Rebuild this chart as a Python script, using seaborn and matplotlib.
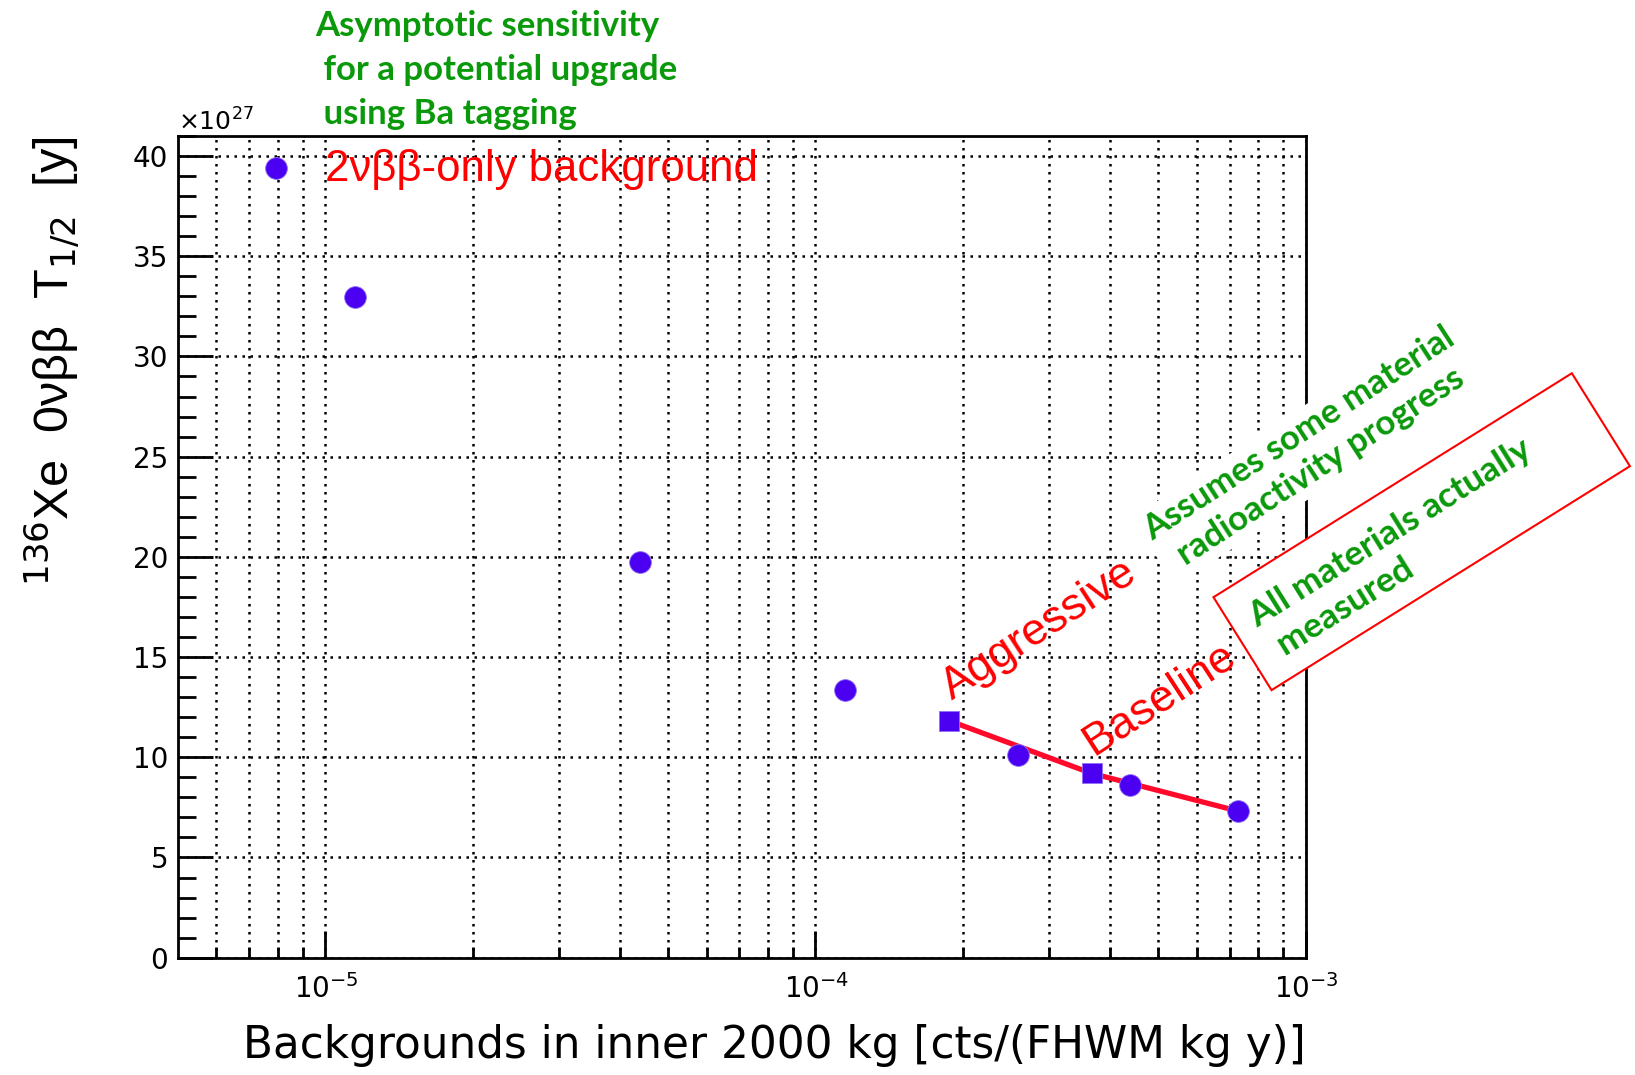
import matplotlib
matplotlib.use("Agg")
import matplotlib.pyplot as plt
import matplotlib.patches as mpatches
import matplotlib.transforms as mtransforms
from matplotlib.ticker import FixedLocator, FixedFormatter, LogLocator, MultipleLocator, NullFormatter
import numpy as np
import seaborn as sns

# Sensitivity scan: background index vs 0vbb half-life sensitivity (units of 1e27 y)
bkg_scan = [7.93e-6, 1.15e-5, 4.38e-5, 1.15e-4, 2.59e-4, 4.38e-4, 7.27e-4]
t_half_scan = [39.38, 32.97, 19.75, 13.36, 10.11, 8.62, 7.32]

# Design scenarios (Aggressive, Baseline)
bkg_design = [1.873e-4, 3.66e-4]
t_half_design = [11.83, 9.20]

# Sensitivity curve through the design scenarios
bkg_curve = [1.873e-4, 3.66e-4, 7.27e-4]
t_half_curve = [11.83, 9.20, 7.32]

x_major = [1e-5, 1e-4, 1e-3]
x_labels = [r"$10^{-5}$", r"$10^{-4}$", r"$10^{-3}$"]
y_major = [0, 5, 10, 15, 20, 25, 30, 35, 40]

MARKER = "#4b00f2"
RED = "#ff0000"
LINE_RED = "#ff0a2a"
GREEN = "#0a990a"

sns.set_theme(style="white")
plt.rcParams["font.family"] = ["Liberation Sans", "DejaVu Sans"]
plt.rcParams["mathtext.fontset"] = "custom"
plt.rcParams["mathtext.rm"] = "DejaVu Sans"
plt.rcParams["mathtext.it"] = "DejaVu Sans:italic"
plt.rcParams["mathtext.bf"] = "DejaVu Sans:bold"
plt.rcParams["text.color"] = "black"

W, H = 1635, 1075
fig = plt.figure(figsize=(W / 100, H / 100), dpi=100)
fig.patch.set_facecolor("white")


def fx(x):
    return x / W


def fy(y):
    return 1 - y / H


ax_left, ax_right, ax_top, ax_bottom = 178, 1305.5, 136, 957.7
ax = fig.add_axes([fx(ax_left), fy(ax_bottom), (ax_right - ax_left) / W, (ax_bottom - ax_top) / H])
ax.set_facecolor("white")

sns.lineplot(x=bkg_curve, y=t_half_curve, ax=ax, color=LINE_RED, linewidth=3.8,
             sort=False, estimator=None, zorder=3)
sns.scatterplot(x=bkg_scan, y=t_half_scan, ax=ax, marker="o", s=245, color=MARKER,
                edgecolor="#8f70f7", linewidth=0.6, zorder=4)
sns.scatterplot(x=bkg_design, y=t_half_design, ax=ax, marker="s", s=220, color=MARKER,
                edgecolor="#8f70f7", linewidth=0.6, zorder=5)

ax.set_xscale("log")
ax.set_xlim(10 ** -5.3, 1e-3)
ax.set_ylim(0, 41)

ax.xaxis.set_major_locator(FixedLocator(x_major))
ax.xaxis.set_major_formatter(FixedFormatter(x_labels))
ax.xaxis.set_minor_locator(LogLocator(base=10, subs=np.arange(2, 10)))
ax.xaxis.set_minor_formatter(NullFormatter())
ax.yaxis.set_major_locator(FixedLocator(y_major))
ax.yaxis.set_minor_locator(MultipleLocator(1))

dots = (0, (1, 2.2))
ax.grid(which="major", axis="both", color="black", linestyle=dots, linewidth=1.8)
ax.grid(which="minor", axis="x", color="black", linestyle=dots, linewidth=1.8)
ax.set_axisbelow(True)

for side in ["left", "right", "top", "bottom"]:
    ax.spines[side].set_visible(True)
    ax.spines[side].set_color("black")
    ax.spines[side].set_linewidth(2.0)

ax.tick_params(axis="y", which="major", direction="in", length=25, width=2, color="black",
               left=True, right=False, labelsize=20, pad=7, labelcolor="black")
ax.tick_params(axis="y", which="minor", direction="in", length=13, width=2, color="black",
               left=True, right=False)
ax.tick_params(axis="x", which="major", direction="in", length=19.5, width=2, color="black",
               bottom=True, top=False, labelsize=20, pad=12, labelcolor="black")
ax.tick_params(axis="x", which="minor", direction="in", length=8, width=2, color="black",
               bottom=True, top=False)
for lab in ax.get_yticklabels():
    lab.set_family("DejaVu Sans")
for lab in ax.get_xticklabels():
    lab.set_family("DejaVu Sans")
    lab.set_transform(lab.get_transform() + mtransforms.ScaledTranslation(0.01, 0, fig.dpi_scale_trans))

ax.set_xlabel("Backgrounds in inner 2000 kg [cts/(FHWM kg y)]", fontsize=31.5, color="black",
              family="DejaVu Sans")
ax.xaxis.label.set_ha("right")
ax.xaxis.label.set_va("baseline")
ax.xaxis.set_label_coords(1.0, (ax_bottom - 1058) / (ax_bottom - ax_top))

ax.set_ylabel(r"$^{136}$Xe  0νββ  T$_{1/2}$  [y]", fontsize=35, color="black")
ax.yaxis.label.set_ha("right")
ax.yaxis.label.set_va("center")
ax.yaxis.set_label_coords((52 - ax_left) / (ax_right - ax_left), 1.0)

fig.text(fx(178), fy(130.7), r"×10$^{27}$", fontsize=18, ha="left", va="baseline",
         family="DejaVu Sans")

# Annotations
fig.text(fx(315), fy(10), "Asymptotic sensitivity\n for a potential upgrade\n using Ba tagging",
         family="Lato", weight="bold", fontsize=25, color=GREEN, ha="left", va="top",
         linespacing=1.47)
fig.text(fx(325), fy(181.5), "2νββ-only background", fontsize=31.5, color=RED,
         ha="left", va="baseline")
fig.text(fx(1039), fy(630), "Aggressive", fontsize=32.5, color=RED, rotation=33,
         rotation_mode="anchor", ha="center", va="center")
fig.text(fx(1160), fy(699), "Baseline", fontsize=32.5, color=RED, rotation=33,
         rotation_mode="anchor", ha="center", va="center")
fig.text(fx(1310), fy(450), "Assumes some material\nradioactivity progress",
         family="Lato", weight="bold", fontsize=25, color=GREEN, rotation=33,
         rotation_mode="anchor", ha="center", va="center", multialignment="center",
         linespacing=1.25, zorder=6,
         bbox=dict(boxstyle="square,pad=0.15", facecolor="white", edgecolor="none"))

cx, cy = 14.217, (H - 531.7) / 100
bw, bh = 4.226, 1.096
box = mpatches.Rectangle((cx - bw / 2, cy - bh / 2), bw, bh, facecolor="white",
                         edgecolor=RED, linewidth=1.5, zorder=5,
                         transform=mtransforms.Affine2D().rotate_deg_around(cx, cy, 32)
                         + fig.dpi_scale_trans)
fig.add_artist(box)
fig.text(fx(1262), fy(636), "All materials actually\n measured",
         family="Lato", weight="bold", fontsize=25.5, color=GREEN, rotation=32,
         rotation_mode="anchor", ha="left", va="center", multialignment="left",
         linespacing=1.25, zorder=7)

fig.savefig("out.png", dpi=100, facecolor="white")
